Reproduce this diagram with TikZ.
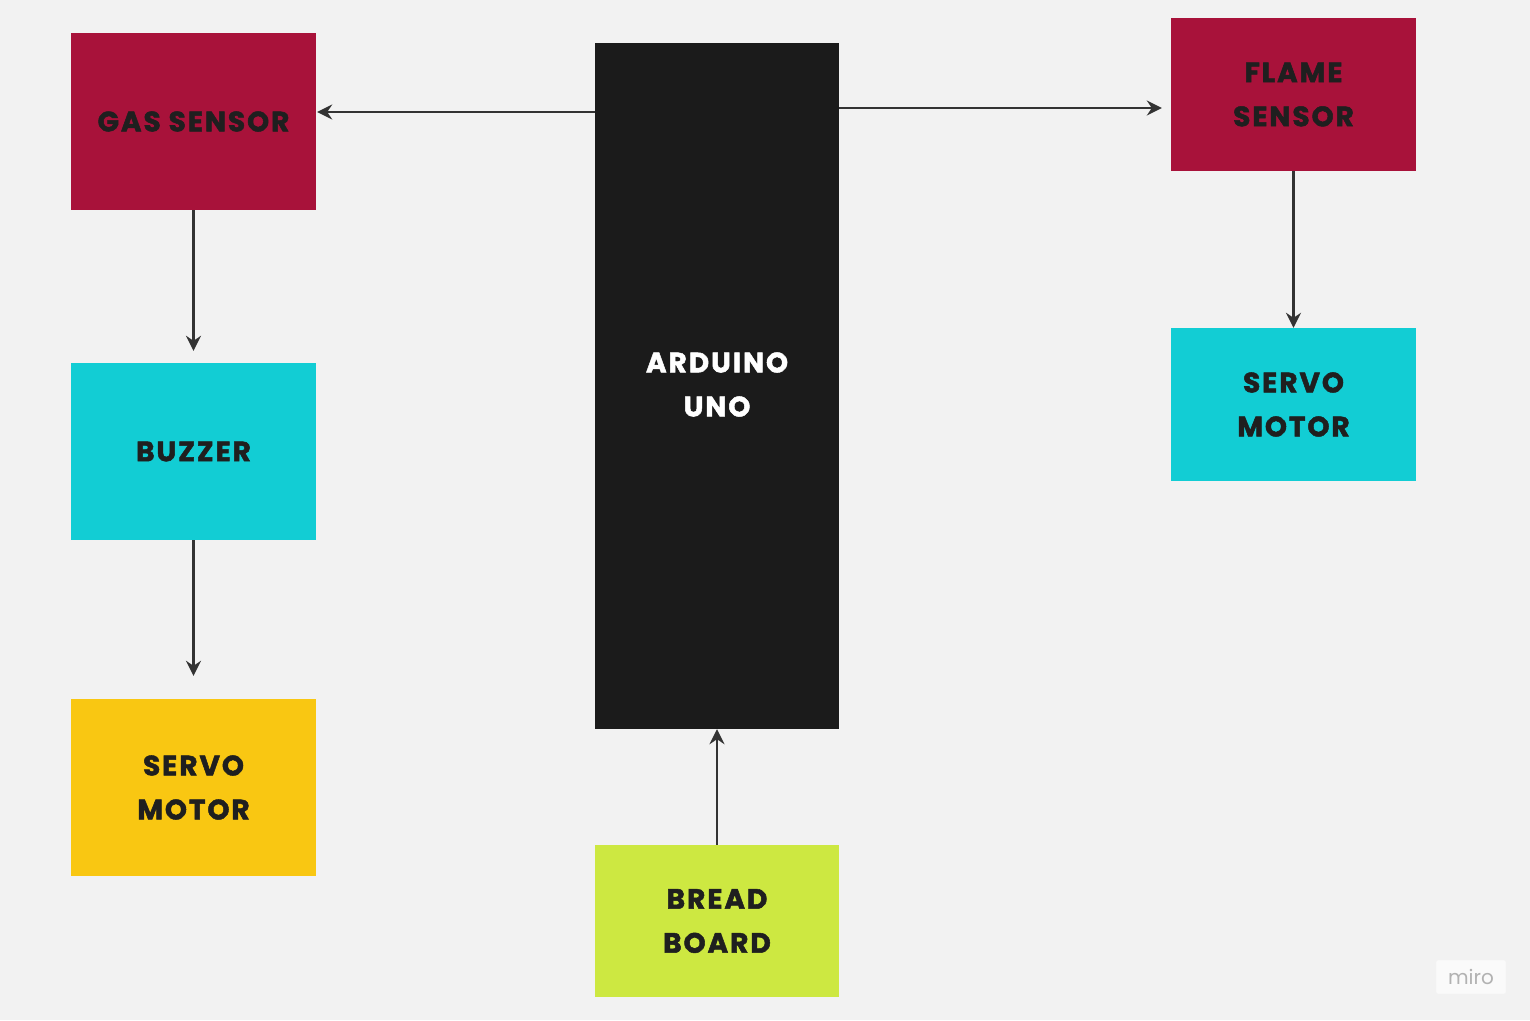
\documentclass[tikz,border=0pt]{standalone}
\usepackage{fontspec}
\setmainfont{Poppins}[BoldFeatures={FakeBold=1.8,LetterSpace=7}]
\usetikzlibrary{arrows.meta}
\definecolor{bg}{HTML}{F2F2F2}
\definecolor{crim}{HTML}{A8123A}
\definecolor{cyanb}{HTML}{12CDD4}
\definecolor{yel}{HTML}{F9C712}
\definecolor{blk}{HTML}{1B1B1B}
\definecolor{lime}{HTML}{CDE841}
\definecolor{ink}{HTML}{1F1F1F}
\definecolor{arr}{HTML}{333333}
\tikzset{
  blockbox/.style={draw=none, inner sep=0pt, align=center, text=ink,
    font=\fontsize{28}{44}\selectfont\bfseries},
  conn/.style={draw=arr, line width=2.2pt, -{Stealth[length=15pt,width=15pt,inset=5pt]}},
}
\begin{document}
\begin{tikzpicture}[x=1pt,y=-1pt]
\fill[bg] (0,0) rectangle (1530,1020);
\useasboundingbox (0,0) rectangle (1530,1020);
% boxes
\node[blockbox, fill=crim, minimum width=245pt, minimum height=177pt] (gas) at (193.5,121.5) {GAS SENSOR};
\node[blockbox, fill=cyanb, minimum width=245pt, minimum height=177pt] (buz) at (193.5,451.5) {BUZZER};
\node[blockbox, fill=yel, minimum width=245pt, minimum height=177pt] (servo1) at (193.5,787.5) {SERVO\\MOTOR};
\node[blockbox, fill=blk, text=white, minimum width=244pt, minimum height=686pt] (ard) at (717,386) {};
\node[blockbox, text=white] (ardt) at (717,384.5) {ARDUINO\\UNO};
\node[blockbox, fill=lime, minimum width=244pt, minimum height=152pt] (bread) at (717,921) {BREAD\\BOARD};
\node[blockbox, fill=crim, minimum width=245pt, minimum height=153pt] (flame) at (1293.5,94.5) {FLAME\\SENSOR};
\node[blockbox, fill=cyanb, minimum width=245pt, minimum height=153pt] (servo2) at (1293.5,404.5) {SERVO\\MOTOR};
% connector endpoints
\coordinate (gasL) at (595,112);
\coordinate (flR) at (839,108);
% connectors
\draw[conn] (ard.west |- gasL) -- ([xshift=1pt]gas.east |- gasL);
\draw[conn] (ard.east |- flR) -- ([xshift=-9pt]flame.west |- flR);
\draw[conn] (gas.south) -- ([yshift=12pt]buz.north);
\draw[conn] (buz.south) -- ([yshift=23pt]servo1.north);
\draw[conn] (flame.south) -- (servo2.north);
\draw[conn] (bread.north) -- (ard.south);
% watermark
\node[draw=white!90!gray, fill=white!60!bg, rounded corners=2pt, minimum width=70pt, minimum height=34pt,
  text=gray!60, font=\fontsize{20}{20}\selectfont] (miro) at (1471,977) {miro};
\end{tikzpicture}
\end{document}
